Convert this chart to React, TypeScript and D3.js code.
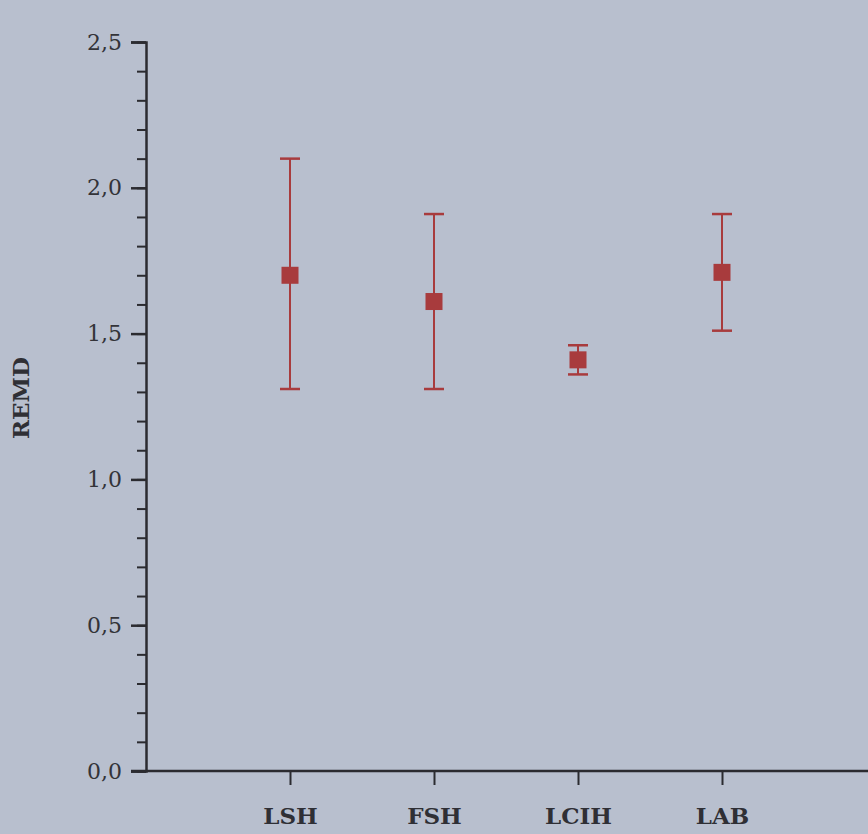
import React, { useEffect, useRef } from "react";
import * as d3 from "d3";

const groups = ["LSH", "FSH", "LCIH", "LAB"];
const means = [1.7, 1.61, 1.41, 1.71];
const upper = [2.1, 1.91, 1.46, 1.91];
const lower = [1.31, 1.31, 1.36, 1.51];
const majorTicks = [0, 0.5, 1, 1.5, 2, 2.5];
const minorTicks = d3.range(0, 26).map((i) => i / 10);

const serif = "DejaVu Serif";

export default function App() {
  const svgRef = useRef<SVGSVGElement>(null);

  useEffect(() => {
    const width = 868;
    const height = 834;
    const marginLeft = 146;
    const marginTop = 42;
    const marginBottom = 63;

    d3.select(svgRef.current).selectAll("*").remove();

    const svg = d3
      .select(svgRef.current)
      .attr("width", width)
      .attr("height", height)
      .attr("viewBox", [0, 0, width, height]);

    svg
      .append("rect")
      .attr("width", width)
      .attr("height", height)
      .attr("fill", "#b8bfce");

    const x = d3
      .scalePoint()
      .domain(groups)
      .range([marginLeft, marginLeft + 720])
      .padding(1);

    const y = d3
      .scaleLinear()
      .domain([0, 2.5])
      .range([height - marginBottom, marginTop]);

    const ink = "#2b2b30";

    // minor ticks
    svg
      .append("g")
      .attr("transform", `translate(${marginLeft},0)`)
      .call(d3.axisLeft(y).tickValues(minorTicks).tickSize(9).tickFormat(() => ""))
      .call((g) => g.select(".domain").remove())
      .call((g) => g.selectAll("line").attr("stroke", ink).attr("stroke-width", 2));

    // major ticks + labels
    svg
      .append("g")
      .attr("transform", `translate(${marginLeft},0)`)
      .call(
        d3
          .axisLeft(y)
          .tickValues(majorTicks)
          .tickSize(15)
          .tickPadding(9)
          .tickFormat((d) => d3.format(".1f")(d as number).replace(".", ","))
      )
      .attr("font-family", serif)
      .attr("font-size", 22)
      .call((g) => g.select(".domain").attr("stroke", ink).attr("stroke-width", 2.5))
      .call((g) => g.selectAll("line").attr("stroke", ink).attr("stroke-width", 2.5))
      .call((g) => g.selectAll("text").attr("fill", "#333338"));

    // x axis
    svg
      .append("g")
      .attr("transform", `translate(0,${height - marginBottom})`)
      .call(d3.axisBottom(x).tickSize(14).tickPadding(23))
      .attr("font-family", serif)
      .attr("font-size", 23)
      .attr("font-weight", "bold")
      .call((g) =>
        g
          .select(".domain")
          .attr("d", `M${marginLeft - 15},0H${width}`)
          .attr("stroke", ink)
          .attr("stroke-width", 2.5)
      )
      .call((g) => g.selectAll("line").attr("stroke", ink).attr("stroke-width", 2))
      .call((g) => g.selectAll("text").attr("fill", "#2f2f35"));

    // y label
    svg
      .append("text")
      .attr("transform", "translate(29,398) rotate(-90)")
      .attr("text-anchor", "middle")
      .attr("fill", "#2f2f35")
      .attr("font-family", serif)
      .attr("font-weight", "bold")
      .attr("font-size", 23)
      .text("REMD");

    const red = "#a83b3d";
    const cap = 10;
    const sq = 17;

    const g = svg
      .append("g")
      .selectAll("g")
      .data(groups)
      .join("g")
      .attr("transform", (d) => `translate(${x(d)},0)`);

    g.append("line")
      .attr("y1", (_, i) => y(lower[i]))
      .attr("y2", (_, i) => y(upper[i]))
      .attr("stroke", red)
      .attr("stroke-width", 2);

    g.append("line")
      .attr("x1", -cap)
      .attr("x2", cap)
      .attr("y1", (_, i) => y(upper[i]))
      .attr("y2", (_, i) => y(upper[i]))
      .attr("stroke", red)
      .attr("stroke-width", 2.5);

    g.append("line")
      .attr("x1", -cap)
      .attr("x2", cap)
      .attr("y1", (_, i) => y(lower[i]))
      .attr("y2", (_, i) => y(lower[i]))
      .attr("stroke", red)
      .attr("stroke-width", 2.5);

    g.append("rect")
      .attr("x", -sq / 2)
      .attr("y", (_, i) => y(means[i]) - sq / 2)
      .attr("width", sq)
      .attr("height", sq)
      .attr("fill", red);
  }, []);

  return (
    <div style={{ position: "fixed", left: 0, top: 0 }}>
      <svg ref={svgRef}></svg>
    </div>
  );
}
